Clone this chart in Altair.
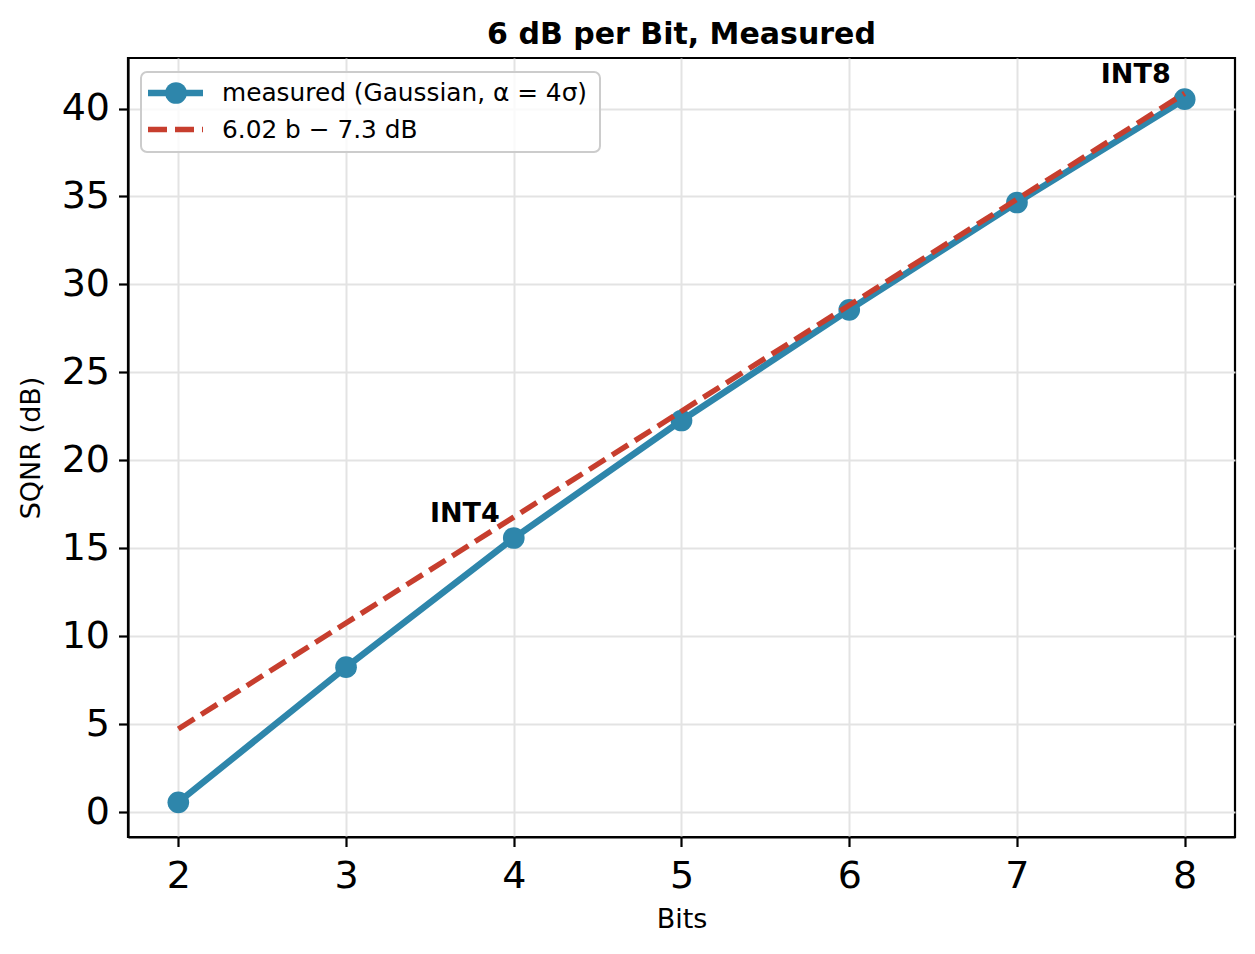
import altair as alt
import pandas as pd

# ---- data ----
bits = [2, 3, 4, 5, 6, 7, 8]
sqnr_measured = [0.57, 8.25, 15.59, 22.27, 28.56, 34.66, 40.53]
sqnr_rule = [4.74, 10.76, 16.78, 22.80, 28.82, 34.84, 40.86]
annot_bits = [4, 8]
annot_sqnr = [15.59, 40.53]
annot_labels = ["INT4", "INT8"]
legend_labels = ["measured (Gaussian, \u03b1 = 4\u03c3)", "6.02 b \u2212 7.3 dB"]
x_ticks = [2, 3, 4, 5, 6, 7, 8]
y_ticks = [0, 5, 10, 15, 20, 25, 30, 35, 40]

BLUE = "#2E86AB"
RED = "#C73E2E"
FONT = "DejaVu Sans"

meas = pd.DataFrame({"bits": bits, "sqnr": sqnr_measured})
fit = pd.DataFrame({"bits": bits, "sqnr": sqnr_rule})
ann = pd.DataFrame({"bits": annot_bits, "sqnr": annot_sqnr, "label": annot_labels})
one = pd.DataFrame({"k": [0]})

xs = alt.Scale(domain=[1.7, 8.3], nice=False, zero=False)
ys = alt.Scale(domain=[-1.4, 42.87], nice=False, zero=False)
X = alt.X("bits:Q", scale=xs, axis=alt.Axis(values=x_ticks, title="Bits", format="d"))
Y = alt.Y("sqnr:Q", scale=ys, axis=alt.Axis(values=y_ticks, title="SQNR (dB)", format="d"))

meas_line = alt.Chart(meas).mark_line(color=BLUE, strokeWidth=6.5).encode(x=X, y=Y)
meas_pts = alt.Chart(meas).mark_point(filled=True, shape="circle", size=470, color=BLUE, opacity=1).encode(x=X, y=Y)
fit_line = alt.Chart(fit).mark_line(color=RED, strokeWidth=5.4, strokeDash=[19, 8]).encode(x=X, y=Y)
ann_text = alt.Chart(ann).mark_text(
    font=FONT, fontSize=27, fontWeight="bold", color="black",
    align="right", baseline="alphabetic", dx=-14, dy=-16
).encode(x=X, y=Y, text="label:N")

# legend (drawn inside the plot, upper left)
leg_box = alt.Chart(one).mark_rect(
    fill="white", fillOpacity=0.8, stroke="#cccccc", strokeWidth=2, cornerRadius=6
).encode(x=alt.value(13), x2=alt.value(472), y=alt.value(14), y2=alt.value(94))
leg_l1 = alt.Chart(one).mark_rule(color=BLUE, strokeWidth=6.5).encode(
    x=alt.value(20), x2=alt.value(75), y=alt.value(35))
leg_p1 = alt.Chart(one).mark_point(filled=True, shape="circle", size=470, color=BLUE, opacity=1).encode(
    x=alt.value(48), y=alt.value(35))
leg_l2 = alt.Chart(one).mark_rule(color=RED, strokeWidth=5.4, strokeDash=[19, 8]).encode(
    x=alt.value(20), x2=alt.value(75), y=alt.value(71.5))
leg_t1 = alt.Chart(one).mark_text(font=FONT, fontSize=24.8, color="black", align="left", baseline="middle").encode(
    x=alt.value(94), y=alt.value(36), text=alt.value(legend_labels[0]))
leg_t2 = alt.Chart(one).mark_text(font=FONT, fontSize=24.8, color="black", align="left", baseline="middle").encode(
    x=alt.value(94), y=alt.value(72.5), text=alt.value(legend_labels[1]))

chart = alt.layer(
    meas_line, meas_pts, fit_line, ann_text,
    leg_box, leg_l1, leg_p1, leg_l2, leg_t1, leg_t2
).properties(
    width=1107, height=779,
    title="6 dB per Bit, Measured",
    autosize=alt.AutoSizeParams(type="none"),
    padding={"left": 120, "top": 50, "right": 10, "bottom": 100},
).configure_axis(
    domainColor="black", domainWidth=2.2,
    tickColor="black", tickWidth=2.2, tickSize=9.5,
    labelFont=FONT, labelFontSize=38, labelColor="black", labelPadding=9,
    titleFont=FONT, titleFontSize=27, titleFontWeight="normal", titleColor="black",
    gridColor="#e3e3e3", gridWidth=2, labelOverlap=False,
).configure_axisX(labelPadding=11, titlePadding=11).configure_axisY(titlePadding=16).configure_view(
    stroke="black", strokeWidth=2.2
).configure_title(
    font=FONT, fontSize=30, fontWeight="bold", color="black", offset=8, anchor="middle"
)

chart.save("out.html", embed_options={"renderer": "svg", "actions": False})
